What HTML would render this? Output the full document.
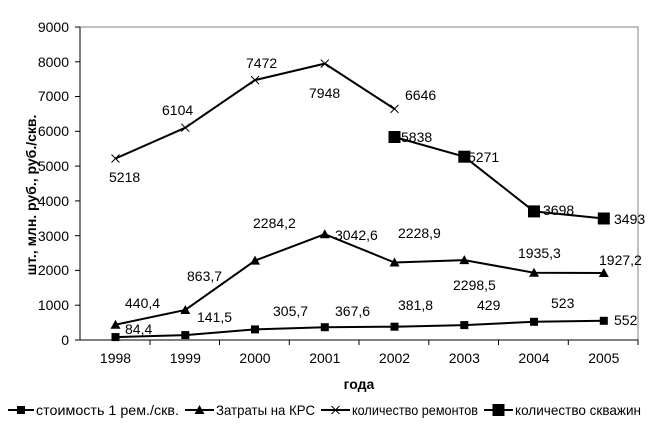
<!DOCTYPE html>
<html><head><meta charset="utf-8"><style>
html,body{margin:0;padding:0;background:#fff;}
svg{display:block;}
text{font-family:"Liberation Sans","DejaVu Sans",sans-serif;font-size:14px;fill:#000;}
</style></head><body>
<svg width="655" height="435" viewBox="0 0 655 435" xmlns="http://www.w3.org/2000/svg">
<rect width="655" height="435" fill="#fff"/>
<!-- plot border -->
<polyline points="80,27 638,27 638,340" fill="none" stroke="#808080" stroke-width="1"/>
<line x1="80" y1="27" x2="80" y2="340" stroke="#000"/>
<line x1="80" y1="340" x2="638" y2="340" stroke="#000"/>
<!-- y ticks -->
<g stroke="#000">
<line x1="75" y1="340" x2="80" y2="340"/><line x1="75" y1="305.2" x2="80" y2="305.2"/>
<line x1="75" y1="270.4" x2="80" y2="270.4"/><line x1="75" y1="235.7" x2="80" y2="235.7"/>
<line x1="75" y1="200.9" x2="80" y2="200.9"/><line x1="75" y1="166.1" x2="80" y2="166.1"/>
<line x1="75" y1="131.3" x2="80" y2="131.3"/><line x1="75" y1="96.5" x2="80" y2="96.5"/>
<line x1="75" y1="61.8" x2="80" y2="61.8"/><line x1="75" y1="27" x2="80" y2="27"/>
<line x1="150" y1="340" x2="150" y2="345"/><line x1="219.5" y1="340" x2="219.5" y2="345"/>
<line x1="289.3" y1="340" x2="289.3" y2="345"/><line x1="359" y1="340" x2="359" y2="345"/>
<line x1="428.8" y1="340" x2="428.8" y2="345"/><line x1="498.5" y1="340" x2="498.5" y2="345"/>
<line x1="568.3" y1="340" x2="568.3" y2="345"/><line x1="638" y1="340" x2="638" y2="345"/>
</g>
<g text-anchor="end" font-size="13">
<text x="69" y="345">0</text><text x="69" y="310">1000</text><text x="69" y="275">2000</text>
<text x="69" y="241">3000</text><text x="69" y="206">4000</text><text x="69" y="171">5000</text>
<text x="69" y="136">6000</text><text x="69" y="101">7000</text><text x="69" y="67">8000</text>
<text x="69" y="32">9000</text>
</g>
<g text-anchor="middle" font-size="13">
<text x="115.5" y="363">1998</text><text x="185.3" y="363">1999</text><text x="255" y="363">2000</text>
<text x="324.8" y="363">2001</text><text x="394.5" y="363">2002</text><text x="464.3" y="363">2003</text>
<text x="534" y="363">2004</text><text x="603.8" y="363">2005</text>
</g>
<text x="359" y="389" text-anchor="middle" font-weight="bold" font-size="12">года</text>
<text transform="translate(36,195) rotate(-90)" text-anchor="middle" font-weight="bold" font-size="12">шт., млн. руб., руб./скв.</text>

<!-- series: cost -->
<polyline points="115.5,337.1 185.3,335.1 255,329.4 324.8,327.2 394.5,326.7 464.3,325.1 534,321.8 603.8,320.8" fill="none" stroke="#000" stroke-width="2"/>
<g fill="#000">
<rect x="111.5" y="333.1" width="8" height="8"/><rect x="181.3" y="331.1" width="8" height="8"/>
<rect x="251" y="325.4" width="8" height="8"/><rect x="320.8" y="323.2" width="8" height="8"/>
<rect x="390.5" y="322.7" width="8" height="8"/><rect x="460.3" y="321.1" width="8" height="8"/>
<rect x="530" y="317.8" width="8" height="8"/><rect x="599.8" y="316.8" width="8" height="8"/>
</g>
<!-- KRS -->
<polyline points="115.5,324.7 185.3,310 255,260.6 324.8,234.2 394.5,262.5 464.3,260.1 534,272.7 603.8,273" fill="none" stroke="#000" stroke-width="2"/>
<g fill="#000">
<polygon points="115.5,319.7 110.5,328.7 120.5,328.7"/><polygon points="185.3,305 180.3,314 190.3,314"/>
<polygon points="255,255.6 250,264.6 260,264.6"/><polygon points="324.8,229.2 319.8,238.2 329.8,238.2"/>
<polygon points="394.5,257.5 389.5,266.5 399.5,266.5"/><polygon points="464.3,255.1 459.3,264.1 469.3,264.1"/>
<polygon points="534,267.7 529,276.7 539,276.7"/><polygon points="603.8,268 598.8,277 608.8,277"/>
</g>
<!-- repairs -->
<polyline points="115.5,158.5 185.3,127.7 255,80.1 324.8,63.6 394.5,108.9" fill="none" stroke="#000" stroke-width="2"/>
<g stroke="#000" stroke-width="1">
<path d="M111.5,154.5l8,8M119.5,154.5l-8,8"/><path d="M181.3,123.7l8,8M189.3,123.7l-8,8"/>
<path d="M251,76.1l8,8M259,76.1l-8,8"/><path d="M320.8,59.6l8,8M328.8,59.6l-8,8"/>
<path d="M390.5,104.9l8,8M398.5,104.9l-8,8"/>
</g>
<!-- wells -->
<polyline points="394.5,137 464.3,156.7 534,211.4 603.8,218.5" fill="none" stroke="#000" stroke-width="2"/>
<g fill="#000">
<rect x="388.5" y="131" width="12" height="12"/><rect x="458.3" y="150.7" width="12" height="12"/>
<rect x="528" y="205.4" width="12" height="12"/><rect x="597.8" y="212.5" width="12" height="12"/>
</g>
<!-- data labels -->
<g>
<text x="109" y="182">5218</text><text x="162" y="115">6104</text><text x="246" y="68">7472</text>
<text x="309" y="98">7948</text><text x="405" y="100">6646</text>
<text x="401" y="142">5838</text><text x="468" y="162">5271</text><text x="543" y="215">3698</text><text x="614" y="224">3493</text>
<text x="253" y="228">2284,2</text><text x="335" y="240">3042,6</text><text x="187" y="281">863,7</text>
<text x="125" y="308">440,4</text><text x="398" y="238">2228,9</text><text x="453" y="290">2298,5</text>
<text x="518" y="258">1935,3</text><text x="599" y="265">1927,2</text>
<text x="125" y="334">84,4</text><text x="197" y="322">141,5</text><text x="273" y="316">305,7</text>
<text x="335" y="316">367,6</text><text x="398" y="310">381,8</text><text x="477" y="310">429</text>
<text x="551" y="308">523</text><text x="614" y="325">552</text>
</g>
<!-- legend -->
<g font-size="13">
<line x1="8" y1="410" x2="34" y2="410" stroke="#000" stroke-width="2"/><rect x="17" y="406" width="8" height="8"/>
<text x="36" y="415" textLength="143" lengthAdjust="spacingAndGlyphs">стоимость 1 рем./скв.</text>
<line x1="185" y1="410" x2="214" y2="410" stroke="#000" stroke-width="2"/><polygon points="199.5,405 194.5,414 204.5,414"/>
<text x="216" y="415" textLength="99" lengthAdjust="spacingAndGlyphs">Затраты на КРС</text>
<line x1="321" y1="410" x2="350" y2="410" stroke="#000" stroke-width="2"/><path d="M331.5,406l8,8M339.5,406l-8,8" stroke="#000"/>
<text x="352" y="415" textLength="126" lengthAdjust="spacingAndGlyphs">количество ремонтов</text>
<line x1="484" y1="410" x2="513" y2="410" stroke="#000" stroke-width="2"/><rect x="492.5" y="404" width="12" height="12"/>
<text x="515" y="415" textLength="126" lengthAdjust="spacingAndGlyphs">количество скважин</text>
</g>
</svg>
</body></html>
